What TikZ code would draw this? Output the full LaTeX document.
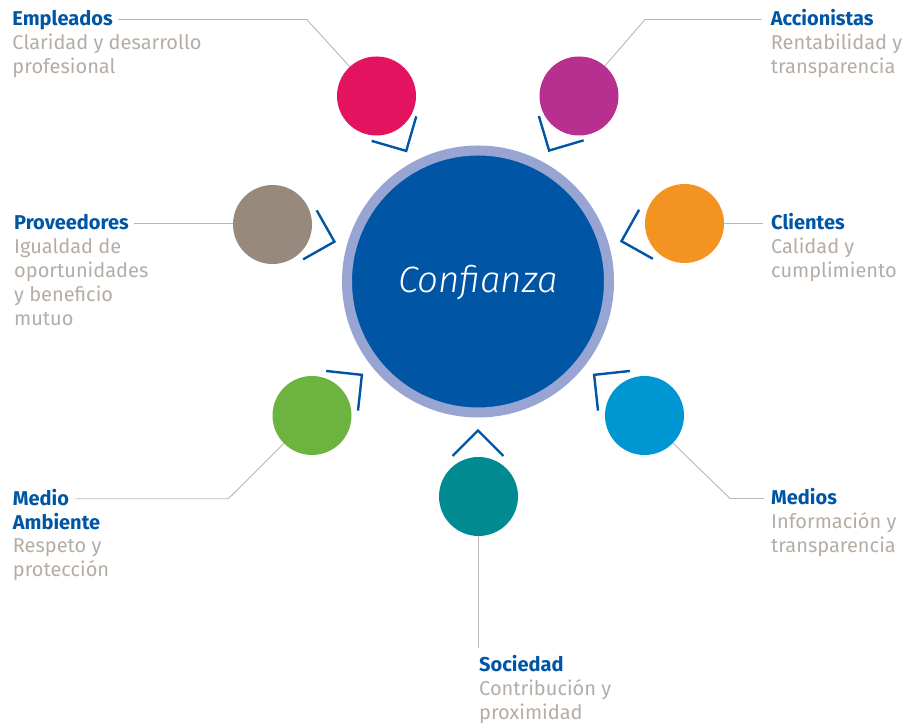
\documentclass[tikz,border=0pt]{standalone}
\usepackage{fontspec}
\setmainfont{Fira Sans}
\newfontfamily\conffont{Fira Sans Light}
\usetikzlibrary{calc}
\definecolor{cblue}{HTML}{0056A4}
\definecolor{cring}{HTML}{98A5D3}
\definecolor{cgray}{HTML}{B5ADA5}
\definecolor{clead}{HTML}{BDB6AE}
\definecolor{cpink}{HTML}{E4135F}
\definecolor{cmag}{HTML}{B72F8F}
\definecolor{ctaupe}{HTML}{978A7D}
\definecolor{corange}{HTML}{F39322}
\definecolor{cgreen}{HTML}{6DB33F}
\definecolor{ccyan}{HTML}{0096D1}
\definecolor{cteal}{HTML}{008B92}
\begin{document}
\begin{tikzpicture}[x=1pt,y=1pt,
  sat/.style={circle,inner sep=0pt,minimum size=79pt},
  chev/.style={draw=cblue,line width=2.4pt},
  lead/.style={draw=clead,line width=0.9pt},
  ttl/.style={anchor=base west,inner sep=0pt,text height=13pt,text depth=0pt,
    font=\fontsize{20}{24}\selectfont\bfseries,text=cblue},
  dsc/.style={anchor=base west,inner sep=0pt,align=left,
    font=\fontsize{20}{24}\selectfont,text=cgray}]
\useasboundingbox (0,0) rectangle (920,727);

% centre
\node[circle,inner sep=0pt,minimum size=262pt,fill=cblue,draw=cring,line width=10pt] (C) at (478,445.5) {};
\node[anchor=base,inner sep=0pt,text=white,font=\conffont\itshape\fontsize{36.7}{40}\selectfont] (Ct) at (478,434) {Confianza};

% satellites
\node[sat,fill=cpink]   (emp) at (376.5,631) {};
\node[sat,fill=cmag]    (acc) at (579,631) {};
\node[sat,fill=ctaupe]  (pro) at (272.5,502.5) {};
\node[sat,fill=corange] (cli) at (684.5,503.5) {};
\node[sat,fill=cgreen]  (med) at (312,311.5) {};
\node[sat,fill=ccyan]   (mds) at (644.5,311.5) {};
\node[sat,fill=cteal]   (soc) at (478.5,230.5) {};

% chevrons
\foreach \n/\a in {emp/118.8,acc/61.5,pro/164.5,cli/15.7,med/218.8,mds/-38.8,soc/-90}{
  \coordinate (\n-apex) at ($(C)+(\a:149)$);
  \draw[chev] ($(\n-apex)+(\a+45:36)$) -- (\n-apex) -- ($(\n-apex)+(\a-45:36)$);
}

% texts (description nodes are placed by the baseline of their last line)
\node[ttl] (empT) at (12.3,701) {Empleados};
\node[dsc] (empD) at (12.3,653) {Claridad y desarrollo\\profesional};
\node[ttl] (accT) at (770.7,701) {Accionistas};
\node[dsc] (accD) at (770.7,653) {Rentabilidad y\\transparencia};
\node[ttl] (proT) at (14,497) {Proveedores};
\node[dsc] (proD) at (14,401.7) {Igualdad de\\oportunidades\\y beneficio\\mutuo};
\node[ttl] (cliT) at (771,497) {Clientes};
\node[dsc] (cliD) at (771,449.7) {Calidad y\\cumplimiento};
\node[ttl] (medT) at (12.7,221.7) {Medio};
\node[ttl] (medT2) at (12.7,197.7) {Ambiente};
\node[dsc] (medD) at (12.7,150) {Respeto y\\protección};
\node[ttl] (mdsT) at (771,222) {Medios};
\node[dsc] (mdsD) at (771,174) {Información y\\transparencia};
\node[ttl] (socT) at (479,55.3) {Sociedad};
\node[dsc] (socD) at (479,7.3) {Contribución y\\proximidad};

% leader lines
\coordinate (eK) at (306.7,707.7);
\coordinate (aK) at (645,707.7);
\coordinate (mK) at (228.3,227.7);
\coordinate (dK) at (730,227.7);
\draw[lead] ([xshift=5.5pt]empT.east) -- (empT.east -| eK) -- (emp);
\draw[lead] ([xshift=-9pt]accT.west) -- (accT.west -| aK) -- (acc);
\draw[lead] ([xshift=5pt]proT.east) -- (proT.east -| pro.west);
\draw[lead] ([xshift=-8pt]cliT.west) -- (cliT.west -| cli.east);
\draw[lead] ([xshift=6.5pt]medT.east) -- (medT.east -| mK) -- (med);
\draw[lead] ([xshift=-7pt]mdsT.west) -- (mdsT.west -| dK) -- (mds);
\draw[lead] (soc) -- ([yshift=10pt]socT.north -| soc);
\end{tikzpicture}
\end{document}
